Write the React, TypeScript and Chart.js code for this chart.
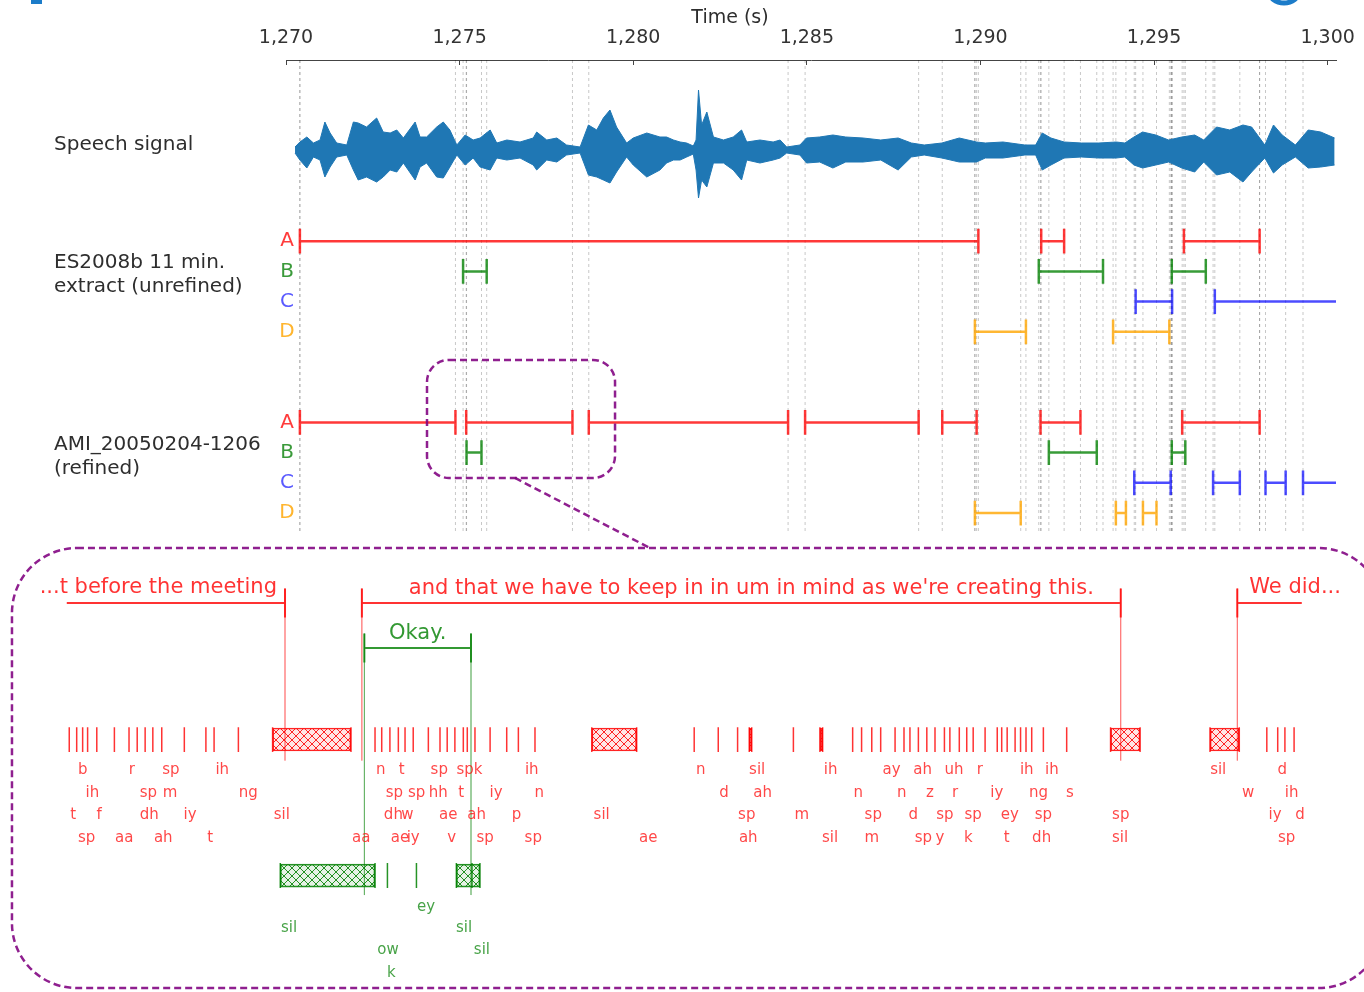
import React, { useEffect, useRef } from "react";
import { Chart, registerables } from "chart.js";

Chart.register(...registerables);

// ---------------- Data ----------------
const TIME_MIN = 1270;
const TIME_MAX = 1300.24;
const TIME_STEP = 5;

const SPEAKERS = ["A", "B", "C", "D"];

// ES2008b 11 min. extract (unrefined) — [start, end] in seconds
const ES_A = [[1270.4, 1289.94], [1291.75, 1292.41], [1295.86, 1298.04]];
const ES_B = [[1275.1, 1275.78], [1291.68, 1293.53], [1295.51, 1296.49]];
const ES_C = [[1294.47, 1295.52], [1296.75, 1301.0]];
const ES_D = [[1289.84, 1291.31], [1293.82, 1295.44]];

// AMI_20050204-1206 (refined)
const AMI_A = [[1270.4, 1274.88], [1275.19, 1278.25], [1278.72, 1284.46], [1284.95, 1288.22], [1288.9, 1289.89], [1291.73, 1292.88], [1295.81, 1298.04]];
const AMI_B = [[1275.2, 1275.63], [1291.97, 1293.35], [1295.51, 1295.9]];
const AMI_C = [[1294.43, 1295.48], [1296.7, 1297.47], [1298.21, 1298.79], [1299.29, 1301.0]];
const AMI_D = [[1289.84, 1291.16], [1293.9, 1294.19], [1294.68, 1295.07]];

// Speech signal envelope (amplitude, arbitrary units)
const WAVE_TIME = [
  1270.26, 1270.4, 1270.6, 1270.79, 1270.98, 1271.12, 1271.27, 1271.46, 1271.75, 1271.94,
  1272.08, 1272.32, 1272.61, 1272.8, 1273.0, 1273.19, 1273.38, 1273.72, 1273.86, 1274.05,
  1274.34, 1274.53, 1274.72, 1274.92, 1275.16, 1275.39, 1275.59, 1275.88, 1276.07, 1276.36,
  1276.74, 1277.12, 1277.22, 1277.51, 1277.8, 1278.08, 1278.47, 1278.71, 1278.95, 1279.14,
  1279.33, 1279.52, 1279.81, 1280.0, 1280.39, 1280.77, 1280.96, 1281.16, 1281.35, 1281.54,
  1281.73, 1281.81, 1281.88, 1281.97, 1282.12, 1282.31, 1282.6, 1282.88, 1283.12, 1283.27,
  1283.65, 1284.03, 1284.23, 1284.42, 1284.8, 1284.99, 1285.37, 1285.75, 1286.12, 1286.62,
  1287.13, 1287.63, 1288.01, 1288.38, 1288.89, 1289.39, 1289.89, 1290.14, 1290.65, 1291.28,
  1291.59, 1291.78, 1292.03, 1292.41, 1292.91, 1293.41, 1293.91, 1294.16, 1294.42, 1294.67,
  1295.05, 1295.42, 1295.8, 1296.17, 1296.43, 1296.8, 1297.18, 1297.56, 1297.81, 1298.19,
  1298.44, 1298.69, 1299.07, 1299.44, 1299.8, 1300.2,
];
const WAVE_UPPER = [
  3, 8, 13, 7, 10, 28, 17, 7, 5, 28,
  27, 23, 32, 18, 17, 20, 12, 28, 13, 13,
  23, 28, 20, 5, 15, 10, 12, 20, 7, 10,
  8, 12, 18, 10, 12, 5, 3, 25, 20, 32,
  40, 23, 7, 12, 17, 13, 13, 10, 8, 7,
  4, 10, 60, 25, 38, 13, 10, 13, 20, 8,
  10, 8, 10, 3, 5, 12, 13, 15, 13, 12,
  10, 12, 7, 5, 7, 12, 8, 7, 8, 5,
  5, 17, 12, 8, 7, 7, 8, 7, 13, 18,
  15, 10, 13, 15, 10, 23, 20, 25, 23, 5,
  25, 15, 5, 20, 18, 12,
];
const WAVE_LOWER = [
  3, 10, 18, 7, 10, 27, 17, 7, 5, 20,
  30, 27, 32, 27, 20, 22, 13, 30, 17, 13,
  27, 28, 17, 5, 15, 8, 17, 20, 8, 10,
  8, 15, 20, 10, 12, 5, 3, 25, 27, 30,
  33, 22, 7, 15, 27, 20, 13, 10, 10, 7,
  4, 20, 48, 30, 37, 13, 13, 20, 30, 10,
  13, 10, 8, 3, 5, 13, 12, 18, 12, 12,
  10, 20, 7, 5, 8, 12, 12, 8, 8, 5,
  5, 20, 15, 8, 7, 8, 8, 7, 15, 18,
  15, 12, 18, 22, 12, 25, 22, 32, 22, 8,
  23, 15, 7, 18, 17, 15,
];

// Zoomed excerpt
const ZOOM_T0 = 1274.0;
const ZOOM_T1 = 1278.98;
const WORDS_A = ["...t before the meeting", "and that we have to keep in in um in mind as we're creating this.", "We did..."];
const WORDS_B = ["Okay."];

const RED_PHONE_BOUNDS = [
  1274.01, 1274.04, 1274.064, 1274.084, 1274.121, 1274.192, 1274.251, 1274.284, 1274.316, 1274.347,
  1274.383, 1274.474, 1274.561, 1274.594, 1274.692, 1274.83, 1275.146, 1275.243, 1275.27, 1275.303,
  1275.337, 1275.364, 1275.397, 1275.458, 1275.505, 1275.534, 1275.565, 1275.599, 1275.615, 1275.646,
  1275.707, 1275.774, 1275.821, 1275.888, 1276.117, 1276.298, 1276.53, 1276.627, 1276.705, 1276.752,
  1276.762, 1276.93, 1277.037, 1277.048, 1277.169, 1277.205, 1277.246, 1277.282, 1277.34, 1277.376,
  1277.4, 1277.434, 1277.468, 1277.501, 1277.539, 1277.561, 1277.599, 1277.629, 1277.655, 1277.703,
  1277.752, 1277.77, 1277.792, 1277.824, 1277.846, 1277.868, 1277.891, 1277.938, 1278.032, 1278.209,
  1278.328, 1278.61, 1278.728, 1278.839, 1278.883, 1278.912, 1278.949,
];
const RED_SIL = [[1274.83, 1275.146], [1276.117, 1276.298], [1276.752, 1276.762], [1277.037, 1277.048], [1278.209, 1278.328], [1278.61, 1278.728]];

// [label, centre time, label row]
const RED_PHONE_LABELS = [
  ["b", 1274.064, 0], ["r", 1274.262, 0], ["sp", 1274.42, 0], ["ih", 1274.627, 0], ["n", 1275.266, 0], ["t", 1275.351, 0],
  ["sp", 1275.502, 0], ["sp", 1275.606, 0], ["k", 1275.659, 0], ["ih", 1275.875, 0], ["n", 1276.556, 0], ["sil", 1276.784, 0],
  ["ih", 1277.08, 0], ["ay", 1277.326, 0], ["ah", 1277.451, 0], ["uh", 1277.578, 0], ["r", 1277.682, 0], ["ih", 1277.871, 0],
  ["ih", 1277.972, 0], ["sil", 1278.643, 0], ["d", 1278.901, 0],
  ["ih", 1274.103, 1], ["sp", 1274.329, 1], ["m", 1274.416, 1], ["ng", 1274.732, 1], ["sp", 1275.321, 1], ["sp", 1275.411, 1],
  ["hh", 1275.498, 1], ["t", 1275.59, 1], ["iy", 1275.731, 1], ["n", 1275.905, 1], ["d", 1276.65, 1], ["ah", 1276.806, 1],
  ["n", 1277.192, 1], ["n", 1277.367, 1], ["z", 1277.481, 1], ["r", 1277.582, 1], ["iy", 1277.75, 1], ["ng", 1277.918, 1],
  ["s", 1278.045, 1], ["w", 1278.764, 1], ["ih", 1278.939, 1],
  ["t", 1274.026, 2], ["f", 1274.131, 2], ["dh", 1274.333, 2], ["iy", 1274.497, 2], ["sil", 1274.867, 2], ["dh", 1275.317, 2],
  ["w", 1275.373, 2], ["ae", 1275.538, 2], ["ah", 1275.653, 2], ["p", 1275.814, 2], ["sil", 1276.157, 2], ["sp", 1276.742, 2],
  ["m", 1276.964, 2], ["sp", 1277.252, 2], ["d", 1277.413, 2], ["sp", 1277.541, 2], ["sp", 1277.655, 2], ["ey", 1277.803, 2],
  ["sp", 1277.938, 2], ["sp", 1278.25, 2], ["iy", 1278.872, 2], ["d", 1278.973, 2],
  ["sp", 1274.08, 3], ["aa", 1274.232, 3], ["ah", 1274.389, 3], ["t", 1274.578, 3], ["aa", 1275.187, 3], ["ae", 1275.344, 3],
  ["iy", 1275.397, 3], ["v", 1275.552, 3], ["sp", 1275.687, 3], ["sp", 1275.881, 3], ["ae", 1276.345, 3], ["ah", 1276.748, 3],
  ["sil", 1277.078, 3], ["m", 1277.246, 3], ["sp", 1277.454, 3], ["y", 1277.521, 3], ["k", 1277.635, 3], ["t", 1277.79, 3],
  ["dh", 1277.931, 3], ["sil", 1278.247, 3], ["sp", 1278.919, 3],
];

const GREEN_PHONE_BOUNDS = [1274.861, 1275.243, 1275.293, 1275.41, 1275.571, 1275.634, 1275.666];
const GREEN_SIL = [[1274.861, 1275.243], [1275.571, 1275.666]];
const GREEN_PHONE_LABELS = [
  ["sil", 1274.896, 1], ["ow", 1275.295, 2], ["k", 1275.309, 3], ["ey", 1275.449, 0], ["sil", 1275.602, 1], ["sil", 1275.674, 2],
];

// ---------------- Layout & style (not data) ----------------
const W = 1364;
const H = 992;
const Y_MAX = 30.86;
const AMP_MIN = -842;
const AMP_MAX = 90;
const XZ_MIN = 1274.884;
const XZ_MAX = 1279.118;
const ROW_SPEECH = 3;
const ES_ROWS = [6, 7, 8, 9];
const AMI_ROWS = [12, 13, 14, 15];
const GRID_END_ROW = 15.63;
const SEG_HALF = 0.41;
const WORD_ROW_A = 17.98;
const WORD_ROW_B = 19.47;
const WORD_HALF = 0.48;
const RED_BAR = [22.09, 22.91];
const GREEN_BAR = [26.59, 27.42];
const RED_LINK_END = 23.2;
const GREEN_LINK_END = 27.65;
const RED_LABEL_ROWS = [23.51, 24.27, 25.0, 25.76];
const GREEN_LABEL_ROWS = [28.05, 28.74, 29.47, 30.23];
const LABEL_X = 54;

const SEG_COLORS = ["rgba(255,0,0,0.78)", "rgba(0,128,0,0.78)", "rgba(0,0,255,0.7)", "rgba(255,165,0,0.8)"];
const LETTER_COLORS = ["#ff3b3b", "#3a9a3a", "#5a5aff", "#ffb52e"];
const WAVE_COLOR = "#1f77b4";
const PURPLE = "rgba(128,0,128,0.88)";
const FONT = '"DejaVu Sans", "Liberation Sans", sans-serif';

// ---------------- Helpers ----------------
type P = { x: number | null; y: number };
function segPath(segs: number[][], row: number, half: number): P[] {
  const pts: P[] = [];
  for (const [s, e] of segs) {
    pts.push({ x: s, y: row - half }, { x: s, y: row + half }, { x: s, y: NaN });
    pts.push({ x: s, y: row }, { x: e, y: row }, { x: e, y: NaN });
    pts.push({ x: e, y: row - half }, { x: e, y: row + half }, { x: e, y: NaN });
  }
  return pts;
}
function zoomSegPath(segs: number[][], row: number, half: number): P[] {
  const pts: P[] = [];
  for (const [s, e] of segs) {
    if (e < ZOOM_T0 || s > ZOOM_T1) continue;
    const a = Math.max(s, ZOOM_T0);
    const b = Math.min(e, ZOOM_T1);
    if (s >= ZOOM_T0) pts.push({ x: s, y: row - half }, { x: s, y: row + half }, { x: s, y: NaN });
    pts.push({ x: a, y: row }, { x: b, y: row }, { x: b, y: NaN });
    if (e <= ZOOM_T1) pts.push({ x: e, y: row - half }, { x: e, y: row + half }, { x: e, y: NaN });
  }
  return pts;
}
function vlines(ts: number[], y0: number, y1: number): P[] {
  const pts: P[] = [];
  for (const t of ts) pts.push({ x: t, y: y0 }, { x: t, y: y1 }, { x: t, y: NaN });
  return pts;
}
function zoomBounds(segs: number[][]): number[] {
  const out: number[] = [];
  for (const [s, e] of segs) {
    if (s >= ZOOM_T0 && s <= ZOOM_T1) out.push(s);
    if (e >= ZOOM_T0 && e <= ZOOM_T1) out.push(e);
  }
  return out;
}
function line(data: P[], color: string, width: number, extra: any = {}) {
  return {
    type: "line",
    data,
    borderColor: color,
    backgroundColor: color,
    borderWidth: width,
    pointRadius: 0,
    pointHoverRadius: 0,
    fill: false,
    tension: 0,
    spanGaps: false,
    order: 1,
    ...extra,
  };
}
function makeHatch(stroke: string, bg: string) {
  const c = document.createElement("canvas");
  c.width = 8;
  c.height = 8;
  const g = c.getContext("2d")!;
  g.fillStyle = bg;
  g.fillRect(0, 0, 8, 8);
  g.strokeStyle = stroke;
  g.lineWidth = 1;
  g.beginPath();
  g.moveTo(0, 0);
  g.lineTo(8, 8);
  g.moveTo(8, 0);
  g.lineTo(0, 8);
  g.stroke();
  return g.createPattern(c, "repeat");
}

const annotPlugin = {
  id: "annot",
  afterDatasetsDraw(chart: any) {
    const { ctx } = chart;
    const x = chart.scales.x;
    const xz = chart.scales.xz;
    const y = chart.scales.y;
    const Y = (v: number) => y.getPixelForValue(v);
    ctx.save();

    // left-hand labels
    ctx.font = `20px ${FONT}`;
    ctx.fillStyle = "#2e2e2e";
    ctx.textAlign = "left";
    ctx.textBaseline = "alphabetic";
    ctx.fillText("Speech signal", LABEL_X, Y(ROW_SPEECH) - 1);
    ["ES2008b 11 min.", "extract (unrefined)"].forEach((t, i) => ctx.fillText(t, LABEL_X, Y(ES_ROWS[1]) - 3 + i * 24));
    ["AMI_20050204-1206", "(refined)"].forEach((t, i) => ctx.fillText(t, LABEL_X, Y(AMI_ROWS[1]) - 3 + i * 24));

    // speaker letters
    ctx.textAlign = "center";
    ctx.textBaseline = "middle";
    const lx = chart.chartArea.left + 1;
    SPEAKERS.forEach((s, i) => {
      ctx.fillStyle = LETTER_COLORS[i];
      ctx.fillText(s, lx, Y(ES_ROWS[i]));
      ctx.fillText(s, lx, Y(AMI_ROWS[i]));
    });

    // axis title
    ctx.fillStyle = "#2e2e2e";
    ctx.font = `19px ${FONT}`;
    ctx.fillText("Time (s)", 730, 18);

    // words
    const drawWords = (segs: number[][], texts: string[], row: number, color: string) => {
      let k = 0;
      ctx.font = `21px ${FONT}`;
      ctx.fillStyle = color;
      ctx.textBaseline = "middle";
      for (const [s, e] of segs) {
        if (e < ZOOM_T0 || s > ZOOM_T1) continue;
        const text = texts[k++];
        if (!text) continue;
        const ps = xz.getPixelForValue(s);
        const pe = xz.getPixelForValue(e);
        if (s < ZOOM_T0) {
          ctx.textAlign = "right";
          ctx.fillText(text, pe - 8, Y(row - 0.5));
        } else if (e > ZOOM_T1) {
          ctx.textAlign = "left";
          ctx.fillText(text, ps + 12, Y(row - 0.5));
        } else {
          ctx.textAlign = "center";
          ctx.fillText(text, (ps + pe) / 2 + (pe - ps > 200 ? 10 : 0), Y(row - 0.47));
        }
      }
    };
    drawWords(AMI_A, WORDS_A, WORD_ROW_A, "rgba(255,0,0,0.8)");
    drawWords(AMI_B, WORDS_B, WORD_ROW_B, "rgba(0,128,0,0.8)");

    // phone labels
    ctx.font = `15px ${FONT}`;
    ctx.textAlign = "center";
    ctx.textBaseline = "middle";
    ctx.fillStyle = "rgba(255,0,0,0.72)";
    for (const [t, v, r] of RED_PHONE_LABELS as any[]) ctx.fillText(t, xz.getPixelForValue(v), Y(RED_LABEL_ROWS[r]));
    ctx.fillStyle = "rgba(0,128,0,0.72)";
    for (const [t, v, r] of GREEN_PHONE_LABELS as any[]) ctx.fillText(t, xz.getPixelForValue(v), Y(GREEN_LABEL_ROWS[r]));

    // zoom call-out boxes
    ctx.strokeStyle = PURPLE;
    ctx.lineWidth = 2.5;
    ctx.setLineDash([7, 4]);
    const sx0 = x.getPixelForValue(1274.061);
    const sx1 = x.getPixelForValue(1279.476);
    ctx.beginPath();
    ctx.roundRect(sx0, Y(9.93), sx1 - sx0, Y(13.84) - Y(9.93), 22);
    ctx.stroke();
    const bx0 = xz.getPixelForValue(1273.779);
    const bx1 = xz.getPixelForValue(1279.31);
    ctx.beginPath();
    ctx.roundRect(bx0, Y(16.16), bx1 - bx0, Y(30.73) - Y(16.16), 65);
    ctx.stroke();
    ctx.beginPath();
    ctx.moveTo(x.getPixelForValue(1276.596), Y(13.84));
    ctx.lineTo(x.getPixelForValue(1280.484), Y(16.16));
    ctx.stroke();
    ctx.setLineDash([]);

    // page fragments at the top edge
    ctx.fillStyle = "#1c7cc9";
    ctx.fillRect(31, 0, 11, 4);
    ctx.strokeStyle = "#1c7cc9";
    ctx.lineWidth = 5;
    ctx.beginPath();
    ctx.ellipse(1284, -9, 15, 12, 0, 0, Math.PI);
    ctx.stroke();
    ctx.restore();
  },
};

export default function App() {
  const ref = useRef<HTMLCanvasElement>(null);
  useEffect(() => {
    const canvas = ref.current!;
    const redHatch = makeHatch("rgba(255,0,0,0.85)", "rgba(255,0,0,0.1)");
    const greenHatch = makeHatch("rgba(0,128,0,0.85)", "rgba(0,128,0,0.1)");

    const esSets = [ES_A, ES_B, ES_C, ES_D];
    const amiSets = [AMI_A, AMI_B, AMI_C, AMI_D];
    const allBounds = [...esSets, ...amiSets]
      .flat()
      .flat()
      .filter((t) => t <= TIME_MAX)
      .sort((a, b) => a - b);

    const top = { xAxisID: "x", yAxisID: "y" };
    const zoom = { xAxisID: "xz", yAxisID: "y", clip: false };

    const datasets: any[] = [];
    datasets.push(line(vlines(allBounds, 0, GRID_END_ROW), "rgba(0,0,0,0.22)", 1, { ...top, borderDash: [3, 3], order: 10 }));
    datasets.push(
      line(WAVE_TIME.map((t, i) => ({ x: t, y: WAVE_UPPER[i] })), WAVE_COLOR, 1, { xAxisID: "x", yAxisID: "yw", order: 8 })
    );
    datasets.push(
      line(WAVE_TIME.map((t, i) => ({ x: t, y: -WAVE_LOWER[i] })), WAVE_COLOR, 1, {
        xAxisID: "x",
        yAxisID: "yw",
        order: 8,
        fill: "-1",
        backgroundColor: WAVE_COLOR,
      })
    );
    esSets.forEach((segs, i) => datasets.push(line(segPath(segs, ES_ROWS[i], SEG_HALF), SEG_COLORS[i], 2.5, top)));
    amiSets.forEach((segs, i) => datasets.push(line(segPath(segs, AMI_ROWS[i], SEG_HALF), SEG_COLORS[i], 2.5, top)));

    datasets.push(line(zoomSegPath(AMI_A, WORD_ROW_A, WORD_HALF), "rgba(255,0,0,0.8)", 2, zoom));
    datasets.push(line(zoomSegPath(AMI_B, WORD_ROW_B, WORD_HALF), "rgba(0,128,0,0.8)", 2, zoom));
    datasets.push(line(vlines(zoomBounds(AMI_A), WORD_ROW_A - WORD_HALF, RED_LINK_END), "rgba(255,0,0,0.28)", 1, zoom));
    datasets.push(line(vlines(zoomBounds(AMI_B), WORD_ROW_B - WORD_HALF, GREEN_LINK_END), "rgba(0,128,0,0.3)", 1, zoom));
    datasets.push(line(vlines(RED_PHONE_BOUNDS, RED_BAR[0], RED_BAR[1]), "rgba(255,0,0,0.8)", 1.5, zoom));
    datasets.push(line(vlines(GREEN_PHONE_BOUNDS, GREEN_BAR[0], GREEN_BAR[1]), "rgba(0,128,0,0.85)", 1.5, zoom));
    const hatchBase = {
      type: "bar",
      indexAxis: "y",
      xAxisID: "xz",
      yAxisID: "y",
      grouped: false,
      clip: false,
      order: 2,
      maxBarThickness: 23,
      barPercentage: 1,
      categoryPercentage: 1,
      borderWidth: 1,
      borderSkipped: false,
    };
    datasets.push({
      ...hatchBase,
      data: RED_SIL.map(([s, e]) => ({ x: [s, e], y: (RED_BAR[0] + RED_BAR[1]) / 2 })),
      backgroundColor: redHatch,
      borderColor: "rgba(255,0,0,0.85)",
    });
    datasets.push({
      ...hatchBase,
      data: GREEN_SIL.map(([s, e]) => ({ x: [s, e], y: (GREEN_BAR[0] + GREEN_BAR[1]) / 2 })),
      backgroundColor: greenHatch,
      borderColor: "rgba(0,128,0,0.85)",
    });

    const chart = new Chart(canvas, {
      type: "line",
      data: { datasets },
      options: {
        responsive: false,
        animation: false,
        devicePixelRatio: 1,
        locale: "en-US",
        events: [],
        layout: { padding: { left: 286, right: 28, top: 0, bottom: 0 } },
        plugins: { legend: { display: false }, tooltip: { enabled: false }, title: { display: false } },
        scales: {
          x: {
            type: "linear",
            position: "top",
            min: TIME_MIN,
            max: TIME_MAX,
            bounds: "data",
            offset: false,
            ticks: {
              stepSize: TIME_STEP,
              includeBounds: false,
              color: "#333",
              font: { size: 19, family: FONT },
              padding: 16,
              maxRotation: 0,
              autoSkip: false,
              callback: (v: any) => Number(v).toLocaleString("en-US"),
            },
            grid: { display: true, drawOnChartArea: false, drawTicks: true, tickLength: -5, color: "#444", lineWidth: 1 },
            border: { display: true, color: "#444", width: 1 },
            title: { display: false },
            afterFit: (s: any) => {
              s.height = 60;
              s.paddingLeft = 0;
              s.paddingRight = 0;
            },
          },
          xz: {
            type: "linear",
            position: "top",
            display: false,
            bounds: "data",
            offset: false,
            stacked: false,
            beginAtZero: false,
            afterDataLimits: (s: any) => {
              s.min = XZ_MIN;
              s.max = XZ_MAX;
            },
          },
          y: { type: "linear", display: false, min: 0, max: Y_MAX, reverse: true, bounds: "data", offset: false },
          yw: { type: "linear", display: false, min: AMP_MIN, max: AMP_MAX, bounds: "data", offset: false },
        },
      } as any,
      plugins: [annotPlugin],
    } as any);
    return () => chart.destroy();
  }, []);

  return (
    <div style={{ position: "absolute", left: 0, top: 0, width: W, height: H, background: "#fff" }}>
      <canvas ref={ref} width={W} height={H} style={{ display: "block", width: W, height: H }} />
    </div>
  );
}
